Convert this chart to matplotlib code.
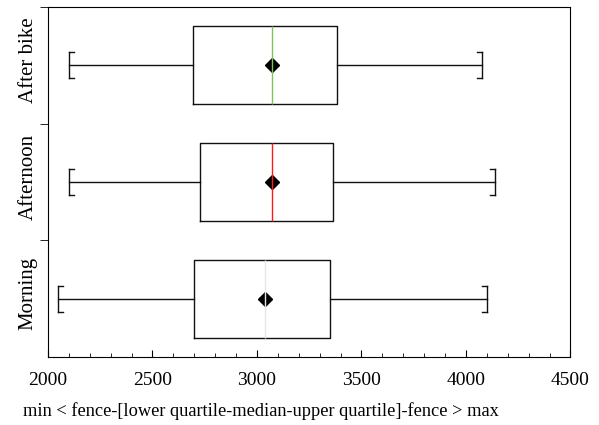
import matplotlib
matplotlib.use('Agg')
import matplotlib.pyplot as plt
from matplotlib.transforms import ScaledTranslation
import numpy as np

# categories, bottom to top
groups = ['Morning', 'Afternoon', 'After bike']
fence_low = [2050, 2100, 2100]
q1 = [2699, 2725, 2696]
median = [3038, 3074, 3071]
q3 = [3350, 3362, 3382]
fence_high = [4101, 4138, 4077]
mean = [3036, 3074, 3071]
median_colors = ['#e6e6e6', '#ff1a1a', '#7cc35c']

plt.rcParams['font.family'] = ['Liberation Serif', 'DejaVu Serif']

fig = plt.figure(figsize=(5.99, 4.25), dpi=100)
ax = fig.add_axes([0.0801, 0.16, 0.8723, 0.8235])

positions = np.arange(1, len(groups) + 1)
stats = []
for i, g in enumerate(groups):
    stats.append({'label': g, 'whislo': fence_low[i], 'q1': q1[i], 'med': median[i],
                  'q3': q3[i], 'whishi': fence_high[i], 'mean': mean[i], 'fliers': []})

box_w = 0.666
cap_w = 0.223
bp = ax.bxp(stats, positions=positions, widths=box_w, orientation='horizontal',
            showmeans=True, showfliers=False, capwidths=cap_w,
            boxprops=dict(color='#111111', linewidth=1.0),
            whiskerprops=dict(color='#111111', linewidth=1.0),
            capprops=dict(color='#111111', linewidth=1.0),
            meanprops=dict(marker='D', markerfacecolor='black', markeredgecolor='black',
                           markersize=6.8, zorder=3),
            medianprops=dict(linewidth=1.0, zorder=4))
for line, c in zip(bp['medians'], median_colors):
    line.set_color(c)

# small inward stubs on the fence caps
stub = 24
for i, p in enumerate(positions):
    for yy in (p - cap_w / 2, p + cap_w / 2):
        ax.plot([fence_low[i], fence_low[i] + stub], [yy, yy], color='#111111', lw=1.0)
        ax.plot([fence_high[i] - stub, fence_high[i]], [yy, yy], color='#111111', lw=1.0)

ax.set_xlim(2000, 4500)
ax.set_ylim(0.5, 3.5)
ax.set_xticks(np.arange(2000, 4501, 500))
ax.set_xticks(np.arange(2000, 4501, 100), minor=True)
ax.tick_params(axis='x', which='both', direction='in', labelsize=14, pad=11)
ax.tick_params(axis='x', which='major', length=5)
ax.tick_params(axis='x', which='minor', length=3)

ax.set_yticks(positions)
ax.set_yticklabels(groups, rotation=90, va='center', fontsize=15)
ax.set_yticks([1.5, 2.5, 3.5], minor=True)
ax.tick_params(axis='y', which='major', length=0, pad=7.5)
ax.tick_params(axis='y', which='minor', direction='out', length=6)
shift = ScaledTranslation(0, 4 / 72, fig.dpi_scale_trans)
for lab in ax.get_yticklabels():
    lab.set_transform(lab.get_transform() + shift)

ax.set_xlabel('min < fence-[lower quartile-median-upper quartile]-fence > max',
              fontsize=13.2, labelpad=6)
ax.xaxis.set_label_coords(0.408, -0.13)
ax.xaxis.label.set_va('top')

fig.savefig('out.png', dpi=100)
